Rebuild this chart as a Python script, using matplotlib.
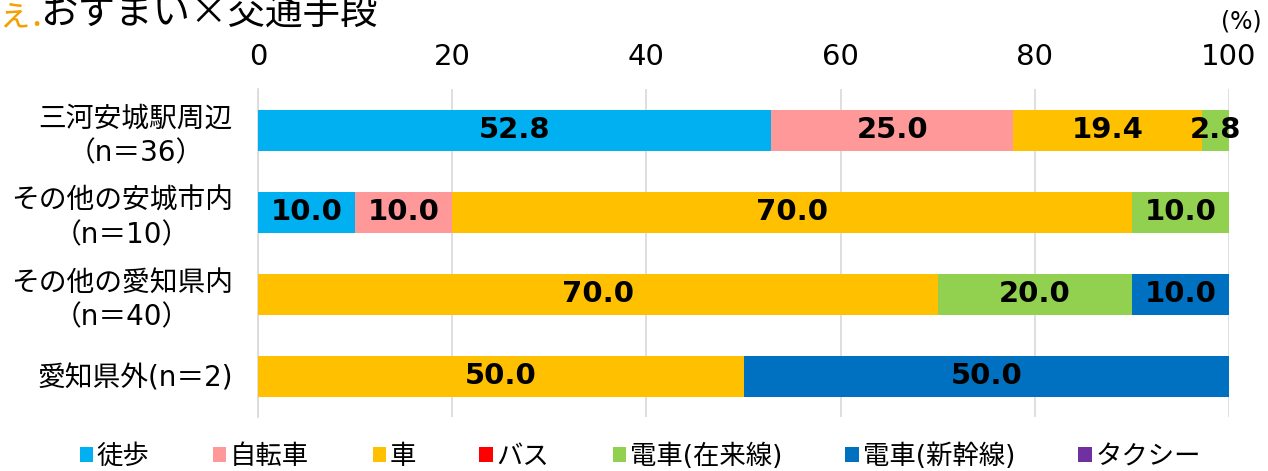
# お住まい × 交通手段 (100% stacked horizontal bar)
import matplotlib.pyplot as plt
import numpy as np

plt.rcParams['font.family'] = ['DejaVu Sans', 'Noto Sans CJK JP']

# --- data ---
categories = ['三河安城駅周辺\n（n＝36）', 'その他の安城市内\n（n＝10）',
              'その他の愛知県内\n（n＝40）', '愛知県外(n＝2)']
modes = ['徒歩', '自転車', '車', 'バス', '電車(在来線)', '電車(新幹線)', 'タクシー']
walk = [52.8, 10.0, 0.0, 0.0]
bicycle = [25.0, 10.0, 0.0, 0.0]
car = [19.4, 70.0, 70.0, 50.0]
bus = [0.0, 0.0, 0.0, 0.0]
train = [2.8, 10.0, 20.0, 0.0]
shinkansen = [0.0, 0.0, 10.0, 50.0]
taxi = [0.0, 0.0, 0.0, 0.0]
series = [walk, bicycle, car, bus, train, shinkansen, taxi]

colors = ['#00B0F0', '#FF9999', '#FFC000', '#FF0000', '#92D050', '#0070C0', '#7030A0']

fig = plt.figure(figsize=(12.68, 4.71), dpi=100)
ax = fig.add_axes([258 / 1268, 1 - 417 / 471, 971 / 1268, 328 / 471])

y = np.arange(len(categories))
left = np.zeros(len(categories))
for name, vals, col in zip(modes, series, colors):
    vals = np.array(vals)
    ax.barh(y, vals, left=left, height=0.5, color=col, label=name, zorder=3)
    for yi, v, l in zip(y, vals, left):
        if v > 0:
            ax.text(l + v / 2, yi, f'{v:.1f}', ha='center', va='center',
                    fontsize=21, fontweight='bold', color='black', zorder=4)
    left += vals

ax.set_xlim(0, 100)
ax.set_ylim(len(categories) - 0.5, -0.5)
ax.set_xticks(range(0, 101, 20))
ax.xaxis.tick_top()
ax.tick_params(axis='x', length=0, labelsize=21, pad=13)
ax.tick_params(axis='y', length=0, labelsize=20, pad=18)
ax.set_yticks(y)
ax.set_yticklabels(categories, multialignment='center', linespacing=1.3)
ax.grid(axis='x', color='#d9d9d9', linewidth=1.2, zorder=0)
for s in ['top', 'right', 'bottom']:
    ax.spines[s].set_visible(False)
ax.spines['left'].set_color('#d9d9d9')
ax.spines['left'].set_linewidth(1.2)

fig.text(1262 / 1268, 1 - 22 / 471, '(%)', ha='right', va='center', fontsize=17)

# title, cut off at the top edge in the original
fig.text(-4 / 1268, 1 - 25 / 471, 'ぇ.', color='#F5A000', fontsize=26, va='baseline',
         family='Noto Sans CJK JP')
fig.text(40 / 1268, 1 - 25 / 471, 'おすまい×交通手段', fontsize=27, va='baseline',
         family='Noto Sans CJK JP')

fig.legend(loc='center', bbox_to_anchor=(0.505, 1 - 457 / 471), ncol=7,
           frameon=False, fontsize=19, handlelength=0.5, handleheight=0.5,
           handletextpad=0.15, columnspacing=2.4)

fig.savefig('out.png', dpi=100)
